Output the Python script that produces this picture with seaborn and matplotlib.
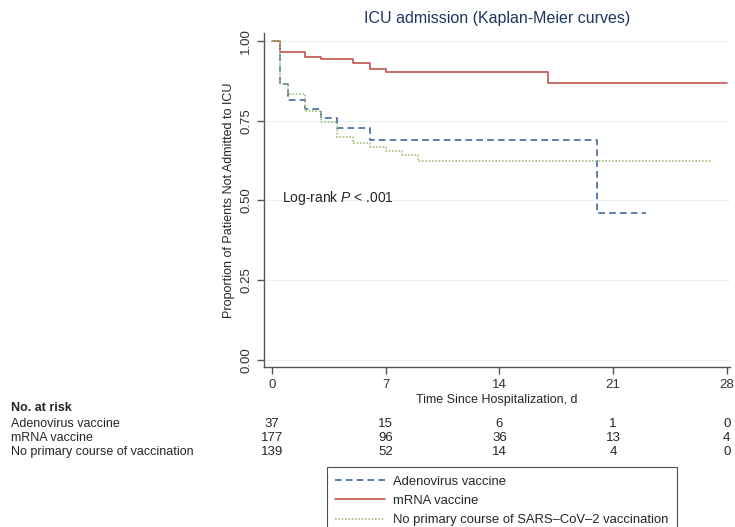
import matplotlib
matplotlib.use("Agg")
import matplotlib.pyplot as plt
import matplotlib.transforms as mtransforms
import pandas as pd
import seaborn as sns

# Kaplan-Meier step points (time in days, proportion not admitted)
adeno_t = [0, 0.5, 1, 2, 3, 4, 6, 20, 23]
adeno_s = [1.0, 0.865, 0.815, 0.786, 0.757, 0.728, 0.690, 0.46, 0.46]
mrna_t = [0, 0.5, 2, 3, 5, 6, 7, 17, 28]
mrna_s = [1.0, 0.966, 0.951, 0.944, 0.932, 0.912, 0.904, 0.867, 0.867]
none_t = [0, 0.5, 1, 2, 3, 4, 5, 6, 7, 8, 9, 27]
none_s = [1.0, 0.865, 0.833, 0.78, 0.745, 0.70, 0.679, 0.669, 0.655, 0.643, 0.625, 0.625]

groups = ["Adenovirus vaccine", "mRNA vaccine",
          "No primary course of SARS\u2013CoV\u20132 vaccination"]
risk_labels = ["Adenovirus vaccine", "mRNA vaccine", "No primary course of vaccination"]
risk_days = [0, 7, 14, 21, 28]
at_risk = [
    [37, 15, 6, 1, 0],
    [177, 96, 36, 13, 4],
    [139, 52, 14, 4, 0],
]

colors = ["#41689e", "#bf5450", "#a3c27a"]
styles = [(0, (4, 2.5)), "-", (0, (1, 1))]

frames = []
for g, t, s in zip(groups, [adeno_t, mrna_t, none_t], [adeno_s, mrna_s, none_s]):
    frames.append(pd.DataFrame({"time": t, "surv": s, "group": g}))
df = pd.concat(frames, ignore_index=True)

sns.set_style("white")
plt.rcParams["font.family"] = ["Liberation Sans", "DejaVu Sans"]
plt.rcParams["mathtext.fontset"] = "custom"
plt.rcParams["mathtext.it"] = "Liberation Sans:italic"
plt.rcParams["mathtext.rm"] = "Liberation Sans"

fig = plt.figure(figsize=(7.35, 5.27), dpi=100)
ax = fig.add_axes([264 / 735, 1 - 367 / 527, (730 - 264) / 735, (367 - 33) / 527])

for g, c, ls in zip(groups, colors, styles):
    sub = df[df["group"] == g]
    sns.lineplot(data=sub, x="time", y="surv", ax=ax, color=c, linestyle=ls,
                 linewidth=1.2, drawstyle="steps-post", estimator=None,
                 sort=False, label=g)

ax.set_xlim(-0.5, 28.2)
ax.set_ylim(-0.022, 1.025)
ax.set_xticks(risk_days)
ax.set_yticks([0, 0.25, 0.5, 0.75, 1.0])
ax.set_yticklabels(["0.00", "0.25", "0.50", "0.75", "1.00"], rotation=90, va="center")
ax.yaxis.grid(True, color="#e8f1f2", linewidth=0.8)
ax.set_axisbelow(True)
for side in ["top", "right"]:
    ax.spines[side].set_visible(False)
for side in ["left", "bottom"]:
    ax.spines[side].set_color("#555555")
    ax.spines[side].set_linewidth(1.0)
ax.tick_params(axis="both", direction="out", length=5, width=1, color="#555555",
               labelsize=9.5, labelcolor="#333333", left=True, bottom=True)

ax.set_xlabel("Time Since Hospitalization, d", fontsize=9, labelpad=2)
ax.set_ylabel("Proportion of Patients Not Admitted to ICU", fontsize=9, labelpad=4)
ax.set_title("ICU admission (Kaplan-Meier curves)", fontsize=11.5, color="#1f3563", pad=7)

ax.text(0.6, 0.508, "Log-rank $P$ < .001", fontsize=10, va="center", ha="left")

ax.get_legend().remove()

# number-at-risk table
trans = mtransforms.blended_transform_factory(ax.transData, fig.transFigure)
fig.text(11 / 735, 1 - 408 / 527, "No. at risk", fontsize=9, fontweight="bold", va="center")
row_y = [424, 438, 452]
for lab, counts, yp in zip(risk_labels, at_risk, row_y):
    fig.text(11 / 735, 1 - yp / 527, lab, fontsize=9, va="center")
    for d, n in zip(risk_days, counts):
        ax.text(d, 1 - yp / 527, str(n), transform=trans, fontsize=9.5,
                ha="center", va="center", clip_on=False)

handles, labels = ax.get_legend_handles_labels()
leg = fig.legend(handles, labels, loc="upper left",
                 bbox_to_anchor=(327 / 735, 1 - 467 / 527), fontsize=9.4,
                 frameon=True, fancybox=False, edgecolor="#222222",
                 handlelength=3.8, labelspacing=0.55, borderpad=0.65,
                 handletextpad=0.6, borderaxespad=0)
leg.get_frame().set_linewidth(0.8)

fig.savefig("out.png", dpi=100)
